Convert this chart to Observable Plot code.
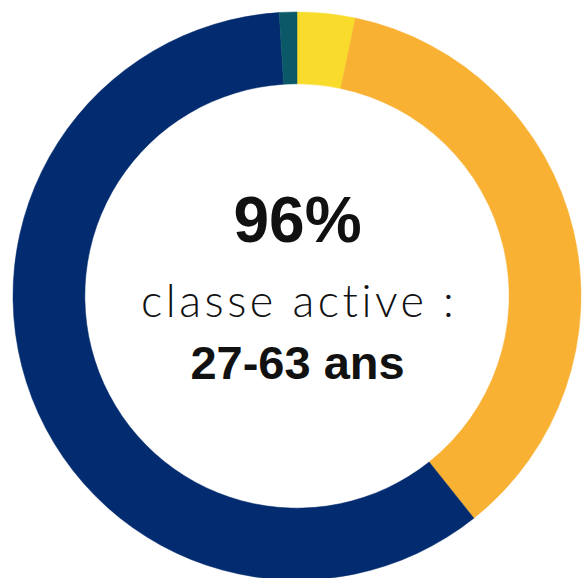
<!DOCTYPE html>
<html>
<head>
<meta charset="utf-8">
<script src="https://cdn.jsdelivr.net/npm/d3@7"></script>
<script src="https://cdn.jsdelivr.net/npm/@observablehq/plot@0.6"></script>
<style>
  html, body { margin: 0; padding: 0; background: #fff; }
  #chart svg { display: block; }
</style>
</head>
<body>
<div id="chart"></div>
<script>
// Slices, clockwise from 12 o'clock
const categories = ["moins de 27 ans", "27-45 ans", "46-63 ans", "plus de 63 ans"];
const shares = [3.3, 36.0, 59.7, 1.0];
const colors = ["#F9DB2C", "#F8B133", "#032B6F", "#0A5868"];

const headline = "96%";
const subtitle = "classe active :";
const ageRange = "27-63 ans";

const slices = categories.map((c, i) => ({category: c, share: shares[i], color: colors[i]}));

const donut = (index, scales, values, dimensions) => {
  const cx = scales.x(0), cy = scales.y(0);
  const R = Math.abs(scales.x(1) - scales.x(0));
  const arcs = d3.pie().sort(null).value(d => d.share)(slices);
  const arc = d3.arc().innerRadius(R * 0.747).outerRadius(R);
  const g = d3.create("svg:g").attr("transform", `translate(${cx},${cy})`);
  g.selectAll("path").data(arcs).join("path")
    .attr("d", arc)
    .attr("fill", d => d.data.color)
    .attr("stroke", d => d.data.color)
    .attr("stroke-width", 0.5);
  return g.node();
};

const chart = Plot.plot({
  width: 585,
  height: 578,
  margin: 0,
  x: {domain: [-1, 1], range: [13, 581], axis: null},
  y: {domain: [-1, 1], range: [580, 12], axis: null},
  marks: [
    donut,
    Plot.text([headline], {x: () => 0, y: () => 0, text: d => d, dy: -75, fontSize: 64, fontWeight: "bold", fontFamily: "Liberation Sans, Arial, sans-serif", fill: "#111", textAnchor: "middle"}),
    Plot.text([subtitle], {x: () => 0, y: () => 0, text: d => d, dy: 6, fontSize: 45, fontWeight: 300, fontFamily: "Lato, 'Open Sans', sans-serif", fill: "#111", textAnchor: "middle"}),
    Plot.text([ageRange], {x: () => 0, y: () => 0, text: d => d, dy: 67, fontSize: 47, fontWeight: "bold", fontFamily: "Liberation Sans, Arial, sans-serif", fill: "#111", textAnchor: "middle"})
  ]
});
d3.select(chart).selectAll("text").filter(function() { return this.textContent === subtitle; })
  .attr("letter-spacing", "3.5px").attr("dx", "1.75");
document.getElementById("chart").appendChild(chart);
</script>
</body>
</html>
